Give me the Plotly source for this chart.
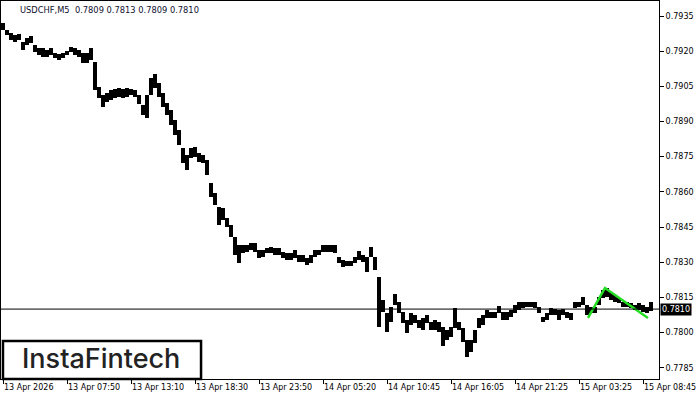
import plotly.graph_objects as go

# ---- data (one column = 20 minutes of M5 bars) ----
high = [
    .79321, .79290, .79278, .79269, .79273, .79239, .79256, .79265, .79226, .79214,
    .79214, .79205, .79214, .79192, .79188, .79192, .79201, .79218, .79214, .79205,
    .79192, .79192, .79214, .79154, .79048, .79013, .79022, .79035, .79039, .79043,
    .79039, .79043, .79039, .79035, .79013, .78971, .79013, .79086, .79103, .79065,
    .79022, .78979, .78950, .78907, .78864, .78787, .78758, .78787, .78792, .78766,
    .78758, .78736, .78639, .78596, .78536, .78532, .78489, .78460, .78408, .78374,
    .78374, .78374, .78383, .78383, .78353, .78353, .78362, .78366, .78362, .78362,
    .78345, .78340, .78340, .78353, .78332, .78332, .78319, .78332, .78353, .78353,
    .78374, .78374, .78374, .78374, .78323, .78310, .78306, .78306, .78323, .78349,
    .78332, .78323, .78366, .78323, .78238, .78140, .78085, .78110, .78166, .78131,
    .78089, .78055, .78085, .78076, .78055, .78063, .78076, .78046, .78055, .78046,
    .78025, .78012, .78025, .78106, .78046, .78021, .77970, .77970, .78012, .78063,
    .78076, .78097, .78089, .78089, .78114, .78089, .78089, .78097, .78119, .78131,
    .78131, .78131, .78131, .78131, .78110, .78068, .78085, .78106, .78102, .78097,
    .78102, .78089, .78085, .78131, .78131, .78153, .78119, .78110, .78110, .78153,
    .78183, .78191, .78174, .78161, .78148, .78131, .78131, .78127, .78119, .78127,
    .78119, .78110, .78130,
]
low = [
    .79290, .79269, .79248, .79239, .79248, .79205, .79226, .79235, .79197, .79184,
    .79175, .79175, .79184, .79171, .79163, .79171, .79184, .79197, .79184, .79175,
    .79150, .79150, .79163, .79035, .79001, .78962, .78984, .78992, .79001, .79005,
    .79001, .79005, .79013, .79005, .78975, .78928, .78916, .79013, .79043, .79005,
    .78962, .78928, .78886, .78843, .78800, .78724, .78694, .78745, .78749, .78728,
    .78724, .78673, .78579, .78545, .78460, .78481, .78451, .78408, .78332, .78298,
    .78340, .78345, .78353, .78345, .78319, .78323, .78340, .78340, .78332, .78332,
    .78319, .78310, .78310, .78319, .78302, .78302, .78289, .78298, .78323, .78332,
    .78345, .78345, .78345, .78340, .78298, .78280, .78285, .78285, .78298, .78310,
    .78302, .78259, .78323, .78268, .78025, .78089, .78004, .78046, .78119, .78085,
    .78042, .77999, .78034, .78042, .78021, .78012, .78042, .78012, .78012, .78004,
    .77944, .77970, .77982, .78021, .78012, .77961, .77897, .77918, .77957, .78021,
    .78034, .78063, .78063, .78063, .78085, .78055, .78055, .78068, .78085, .78097,
    .78106, .78110, .78110, .78106, .78085, .78046, .78055, .78076, .78076, .78055,
    .78076, .78063, .78055, .78106, .78110, .78119, .78076, .78085, .78085, .78119,
    .78148, .78153, .78140, .78131, .78127, .78110, .78110, .78106, .78097, .78097,
    .78089, .78085, .78090,
]
time_labels = ["13 Apr 2026", "13 Apr 07:50", "13 Apr 13:10", "13 Apr 18:30",
               "13 Apr 23:50", "14 Apr 05:20", "14 Apr 10:45", "14 Apr 16:05",
               "14 Apr 21:25", "15 Apr 03:25", "15 Apr 08:45"]
price_ticks = [0.7785, 0.7800, 0.7815, 0.7830, 0.7845, 0.7860, 0.7875,
               0.7890, 0.7905, 0.7920, 0.7935]
last_price = 0.7810
header = "USDCHF,M5  0.7809 0.7813 0.7809 0.7810"
pattern_col = [146.25, 150.5, 161.25]
pattern_price = [0.78062, 0.78190, 0.78062]
brand = "InstaFintech"

FONT = "DejaVu Sans"
FS = 8
cols = list(range(len(high)))
label_step = 16  # columns between time labels

fig = go.Figure()
fig.add_trace(go.Bar(
    x=cols, base=low, y=[h - l for h, l in zip(high, low)], width=1.0,
    marker=dict(color="black", line=dict(width=0)), hoverinfo="skip"))
fig.add_trace(go.Scatter(
    x=pattern_col, y=pattern_price, mode="lines",
    line=dict(color="#22dd22", width=2.5), hoverinfo="skip"))

fig.add_shape(type="line", xref="paper", x0=0, x1=1, yref="y",
              y0=last_price, y1=last_price, line=dict(color="black", width=1))

# logo box
fig.add_shape(type="rect", xref="paper", yref="paper", x0=0.003, x1=0.304,
              y0=0.0, y1=0.1005, fillcolor="white",
              line=dict(color="black", width=2.5), layer="above")
fig.add_annotation(xref="paper", yref="paper", x=0.152, y=0.053, text=brand,
                   showarrow=False, xanchor="center", yanchor="middle",
                   font=dict(family="Inter", size=27, color="#222222", weight=500))
# header
fig.add_annotation(xref="paper", yref="paper", x=0.026, y=0.975, text=header,
                   showarrow=False, xanchor="left", yanchor="middle",
                   font=dict(family=FONT, size=8.3, color="#101030"))
# last price box
fig.add_annotation(xref="paper", yref="y", x=1, y=last_price, text="0.7810",
                   showarrow=False, xanchor="left", yanchor="middle", xshift=1,
                   bgcolor="black", borderpad=1,
                   font=dict(family=FONT, size=FS, color="white"))

fig.update_layout(
    width=700, height=400, margin=dict(l=1, r=41, t=1, b=21, autoexpand=False),
    paper_bgcolor="white", plot_bgcolor="white", showlegend=False, bargap=0,
    font=dict(family=FONT, size=FS, color="black"),
)
fig.update_xaxes(
    range=[-0.5, 164], tickvals=[i * label_step for i in range(len(time_labels))],
    ticktext=time_labels, ticks="outside", ticklen=4, tickcolor="black",
    ticklabelposition="outside right", tickangle=0, automargin=False,
    showline=True, linecolor="black",
    linewidth=1, mirror=True, showgrid=False, zeroline=False,
    tickfont=dict(family=FONT, size=FS, color="black"))
fig.update_yaxes(
    side="right", range=[0.778018, 0.79414], tickvals=price_ticks,
    ticktext=[f"{p:.4f}" for p in price_ticks], automargin=False,
    ticks="outside", ticklen=4, tickcolor="black",
    showline=True, linecolor="black", linewidth=1, mirror=True,
    showgrid=False, zeroline=False,
    tickfont=dict(family=FONT, size=FS, color="black"))

fig.write_html(
    "out.html",
    config={"displayModeBar": False},
    post_script="document.body.style.margin='0';document.body.style.overflow='hidden';",
)
